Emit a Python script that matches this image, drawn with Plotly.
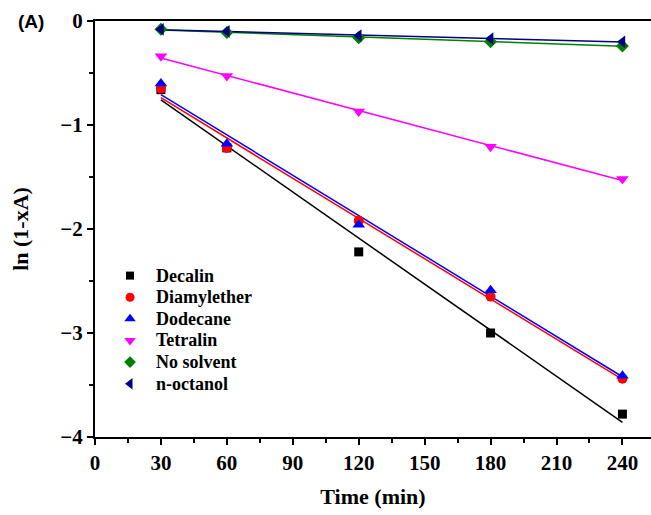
import numpy as np
import plotly.graph_objects as go

time = [30, 60, 120, 180, 240]
decalin = [-0.66, -1.22, -2.22, -3.00, -3.78]
diamylether = [-0.65, -1.22, -1.92, -2.65, -3.44]
dodecane = [-0.60, -1.18, -1.96, -2.59, -3.41]
tetralin = [-0.34, -0.53, -0.87, -1.21, -1.52]
no_solvent = [-0.08, -0.11, -0.16, -0.20, -0.24]
n_octanol = [-0.08, -0.10, -0.14, -0.17, -0.20]

names = ["Decalin", "Diamylether", "Dodecane", "Tetralin", "No solvent", "n-octanol"]
values = [decalin, diamylether, dodecane, tetralin, no_solvent, n_octanol]
colors = ["black", "red", "blue", "magenta", "green", "navy"]
symbols = ["square", "circle", "triangle-up", "triangle-down", "diamond", "triangle-left"]
sizes = [9, 10, 11, 11, 10, 11]

SERIF = "Liberation Serif, Times New Roman, serif"

fig = go.Figure()
x = np.array(time, dtype=float)
for vals, color in zip(values, colors):
    y = np.array(vals)
    k, b = np.polyfit(x, y, 1)
    fig.add_trace(go.Scatter(x=[x[0], x[-1]], y=[k * x[0] + b, k * x[-1] + b], mode="lines",
                             line=dict(color=color, width=1.5), showlegend=False, hoverinfo="skip"))
for name, vals, color, sym, size in zip(names, values, colors, symbols, sizes):
    fig.add_trace(go.Scatter(x=time, y=vals, mode="markers", name=name, showlegend=False,
                             marker=dict(color=color, symbol=sym, size=size)))

# manual legend on an overlay axis in plot-area fractions
leg_x = 0.063
leg_tx = 0.108
leg_y0 = 0.388
leg_dy = 0.052
for i, (name, color, sym, size) in enumerate(zip(names, colors, symbols, sizes)):
    yy = leg_y0 - i * leg_dy
    fig.add_trace(go.Scatter(x=[leg_x], y=[yy], xaxis="x2", yaxis="y2", mode="markers",
                             marker=dict(color=color, symbol=sym, size=size - 1), showlegend=False,
                             hoverinfo="skip"))
    fig.add_annotation(text=name, xref="x2", yref="y2", x=leg_tx, y=yy, xanchor="left",
                       yanchor="middle", showarrow=False, borderpad=0,
                       font=dict(family=SERIF, size=18, color="black", weight="bold"))

tickfont = dict(family=SERIF, size=21, color="black", weight="bold")
titlefont = dict(family=SERIF, size=22, color="black", weight="bold")
fig.update_layout(
    width=651, height=515,
    margin=dict(l=95, r=0, t=21, b=78),
    plot_bgcolor="white", paper_bgcolor="white",
    showlegend=False,
    xaxis2=dict(overlaying="x", range=[0, 1], visible=False),
    yaxis2=dict(overlaying="y", range=[0, 1], visible=False),
)
fig.add_annotation(text="(A)", xref="paper", yref="paper", x=-0.115, y=1.0, xanchor="center",
                   yanchor="middle", showarrow=False,
                   font=dict(family="Liberation Sans, Arial, sans-serif", size=19, color="black", weight="bold"))
fig.update_layout(xaxis=dict(range=[0, 253], tickvals=[0, 30, 60, 90, 120, 150, 180, 210, 240],
                 showline=True, linecolor="black", linewidth=2, mirror=True,
                 ticks="outside", ticklen=6, tickwidth=2, tickcolor="black",
                 minor=dict(tickvals=[15, 45, 75, 105, 135, 165, 195, 225], ticks="outside", ticklen=4, tickwidth=2, tickcolor="black"),
                 showgrid=False, zeroline=False, tickfont=tickfont,
                 title=dict(text="Time (min)", font=titlefont, standoff=14)),
                  yaxis=dict(range=[-4, 0], tickvals=[-4, -3, -2, -1, 0],
                 showline=True, linecolor="black", linewidth=2, mirror=False,
                 ticks="outside", ticklen=6, tickwidth=2, tickcolor="black",
                 minor=dict(tickvals=[-3.5, -2.5, -1.5, -0.5], ticks="outside", ticklen=4, tickwidth=2, tickcolor="black"),
                 showgrid=False, zeroline=False, tickfont=tickfont,
                 title=dict(text="ln (1-xA)", font=titlefont, standoff=26)))
fig.write_html("out.html")
